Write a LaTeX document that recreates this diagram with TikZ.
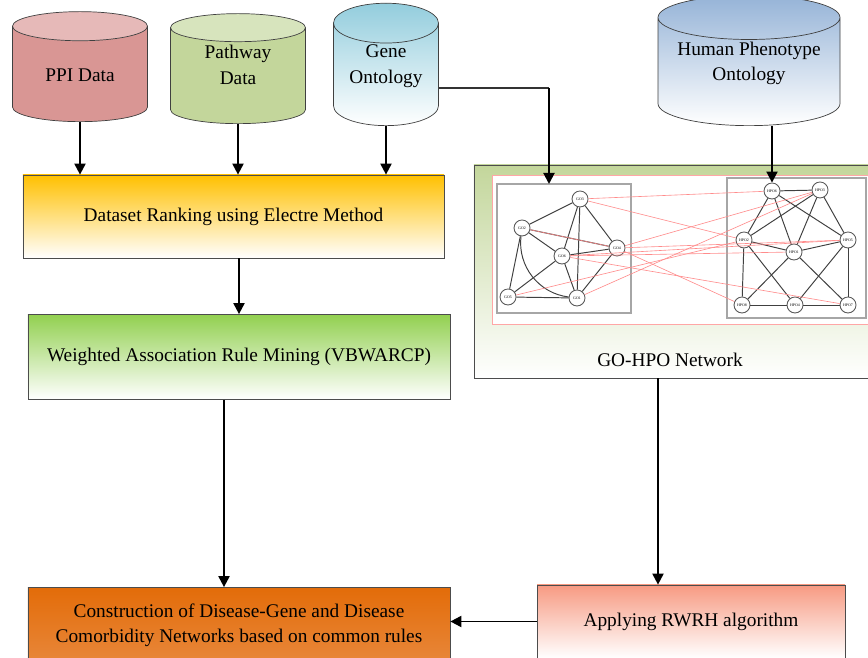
\documentclass[tikz,border=0pt]{standalone}
\usepackage{fontspec}
\setmainfont{Liberation Serif}
\usetikzlibrary{shapes.geometric,arrows.meta,calc,positioning}
\definecolor{ppibody}{HTML}{D99694}
\definecolor{ppiend}{HTML}{E6B9B8}
\definecolor{pathbody}{HTML}{C3D69B}
\definecolor{pathend}{HTML}{D7E4BD}
\definecolor{genetop}{HTML}{93CDDD}
\definecolor{hpotop}{HTML}{95B3D7}
\definecolor{ranktop}{HTML}{FFC000}
\definecolor{wrmtop}{HTML}{92D050}
\definecolor{constrtop}{HTML}{E36C09}
\definecolor{constrbot}{HTML}{E8873A}
\definecolor{rwrhtop}{HTML}{F79A82}
\definecolor{gohpotop}{HTML}{C3D69B}
\tikzset{
	dbnode/.style={cylinder, shape border rotate=90, aspect=0.4, anchor=south, inner sep=1pt, draw=black!75, align=center, font=\fontsize{11}{14.5}\selectfont},
	stepbox/.style={rectangle, draw=black!70, align=center, font=\fontsize{11}{14.2}\selectfont},
	netnode/.style={circle, draw=black!65, fill=white, line width=0.5pt, minimum size=3.2mm, inner sep=0pt, font=\fontsize{2.2}{2.5}\selectfont},
	arr/.style={-{Triangle[length=2.2mm,width=2.2mm]}, line width=1.1pt},
	blackedge/.style={black!75, line width=0.55pt},
	rededge/.style={red!45, line width=0.35pt}
}

\begin{document}
\begin{tikzpicture}[x=0.2mm, y=-0.2mm]
	\useasboundingbox (0,0) rectangle (868,658);
	
	% databases
	\node[dbnode, minimum width=27mm, minimum height=22mm, cylinder uses custom fill, cylinder body fill=ppibody, cylinder end fill=ppiend] at (80,122) (ppi) {PPI Data};
	\node[dbnode, minimum width=27mm, minimum height=22mm, cylinder uses custom fill, cylinder body fill=pathbody, cylinder end fill=pathend] at (238,124) (path) {Pathway\\Data\\\phantom{D}};
	\node[dbnode, aspect=0.52, minimum width=21mm, minimum height=22.6mm, top color=genetop, bottom color=white] at (386,126) (gene) {Gene\\Ontology\\\phantom{O}};
	\node[dbnode, aspect=0.3, minimum width=36.4mm, minimum height=22mm, top color=hpotop, bottom color=white] at (749,126) (hpo) {Human Phenotype\\Ontology\\\phantom{O}};
	
	% left column
	\node[stepbox, minimum width=84.2mm, minimum height=16.6mm, top color=ranktop, bottom color=white] at (233.5,216.5) (rank) {Dataset Ranking using Electre Method};
	\node[stepbox, minimum width=84.4mm, minimum height=17mm, top color=wrmtop, bottom color=white] at (239,357) (wrm) {Weighted Association Rule Mining (VBWARCP)};
	\node[stepbox, minimum width=84.4mm, minimum height=15mm, top color=constrtop, bottom color=constrbot] at (239,625) (constr) {Construction of Disease-Gene and Disease\\Comorbidity Networks based on common rules};
	
	% right column
	\node[stepbox, minimum width=79.6mm, minimum height=42.6mm, top color=gohpotop, bottom color=white] at (673,271.5) (gohpo) {};
	\node at (670,360) (gohpotext) {\fontsize{11}{13}\selectfont GO-HPO Network};
	\node[stepbox, minimum width=61.6mm, minimum height=14.6mm, top color=rwrhtop, bottom color=white] at (691,621.5) (rwrh) {Applying RWRH algorithm};
	
	% network picture
	\draw[red!35, fill=white] (492,175) rectangle (868,324);
	\draw[black!35, line width=0.8pt] (497,184) rectangle (631,313);
	\draw[black!35, line width=0.8pt] (727,178) rectangle (866,318);
	
	\node[netnode] at (580,199) (go3) {GO3};
	\node[netnode] at (522,228) (go2) {GO2};
	\node[netnode] at (562,256) (go6) {GO6};
	\node[netnode] at (617,248) (go4) {GO4};
	\node[netnode] at (508,297) (go5) {GO5};
	\node[netnode] at (577,298) (go1) {GO1};
	
	\node[netnode] at (772,191) (hpoa) {HPO6};
	\node[netnode] at (820,190) (hpob) {HPO3};
	\node[netnode] at (744,240) (hpoc) {HPO2};
	\node[netnode] at (794,252) (hpod) {HPO1};
	\node[netnode] at (848,240) (hpoe) {HPO5};
	\node[netnode] at (742,305) (hpof) {HPO8};
	\node[netnode] at (795,305) (hpog) {HPO4};
	\node[netnode] at (848,305) (hpoh) {HPO7};
	
	\foreach \a/\b in {go3/go2, go3/go6, go3/go1, go3/go4, go2/go6, go2/go4, go2/go5, go6/go4, go6/go5, go6/go1, go4/go1, go5/go1}
		\draw[blackedge] (\a) -- (\b);
	\draw[blackedge] (go2) to[bend right=45] (go1);
	
	\foreach \a/\b in {hpoa/hpob, hpoa/hpoc, hpoa/hpod, hpoa/hpoe, hpob/hpoc, hpob/hpod, hpob/hpoe, hpoc/hpod, hpoc/hpof, hpoc/hpog, hpod/hpoe, hpod/hpof, hpod/hpoh, hpoe/hpog, hpoe/hpoh, hpof/hpog, hpog/hpoh}
		\draw[blackedge] (\a) -- (\b);
	
	\foreach \a/\b in {go3/hpoa, go3/hpoc, go2/go4, go4/hpob, go4/hpoe, go6/hpod, go6/hpoh, go6/hpoe, go5/hpoc, go1/hpob, go4/hpof}
		\draw[rededge] (\a) -- (\b);
	
	% connectors
	\draw[arr] (ppi.south) -- (ppi.south |- rank.north);
	\draw[arr] (path.south) -- (path.south |- rank.north);
	\draw[arr] (gene.south) -- (gene.south |- rank.north);
	\draw[arr] (rank.south -| wrm.north) -- (wrm.north);
	\coordinate (wrmout) at ($(wrm.south)+(-15,0)$);
	\draw[arr] (wrmout) -- (wrmout |- constr.north);
	
	\coordinate (gobend) at (549,88);
	\coordinate (goin) at (549,184);
	\draw[black!80, line width=0.6pt] (gene.east |- gobend) -- (gobend);
	\draw[arr] (gobend) -- (goin);
	\draw[arr] (hpo.south -| hpoa.north) -- (hpoa.north);
	
	\coordinate (gout) at ($(gohpo.south)+(-15,0)$);
	\draw[arr] (gout) -- (gout |- rwrh.north);
	\draw[arr] (rwrh.west) -- (rwrh.west -| constr.east);
\end{tikzpicture}
\end{document}
